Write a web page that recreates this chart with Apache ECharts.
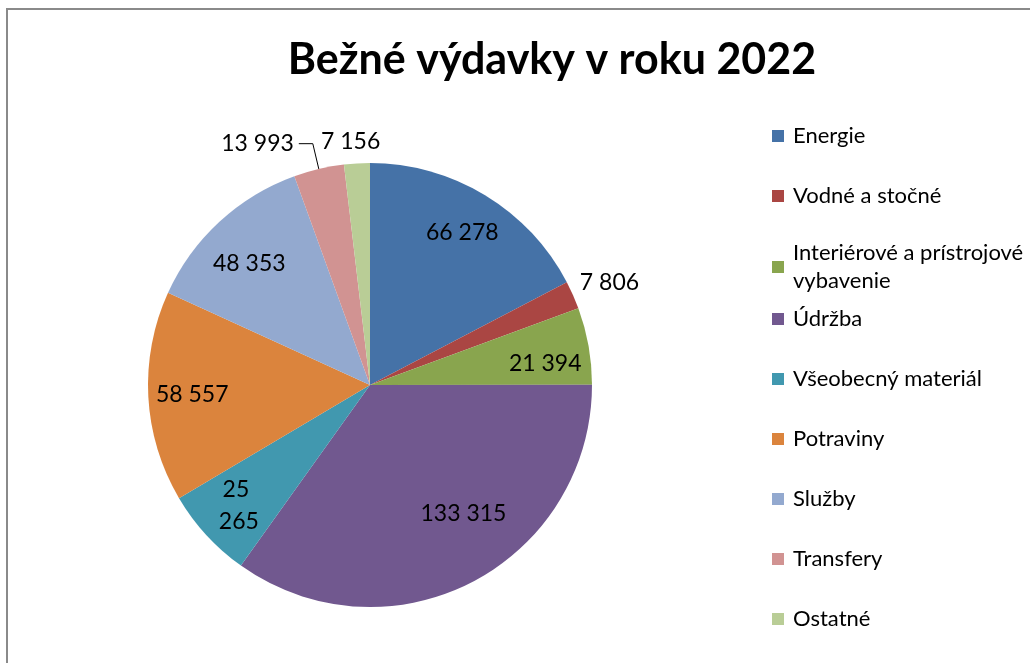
<!DOCTYPE html>
<html>
<head>
<meta charset="utf-8">
<script src="https://cdn.jsdelivr.net/npm/echarts@6/dist/echarts.min.js"></script>
<style>
html,body{margin:0;padding:0;background:#fff;}
#c{width:1030px;height:663px;}
</style>
</head>
<body>
<div id="c"></div>
<script>
const titleText = 'Bežné výdavky v roku 2022';
const categories = ['Energie', 'Vodné a stočné', 'Interiérové a prístrojové vybavenie', 'Údržba', 'Všeobecný materiál', 'Potraviny', 'Služby', 'Transfery', 'Ostatné'];
const values = [66278, 7806, 21394, 133315, 25265, 58557, 48353, 13993, 7156];
const colors = ['#4572A7', '#AA4643', '#89A54E', '#71588F', '#4198AF', '#DB843D', '#93A9CF', '#D19392', '#B9CD96'];
const outsideLabels = ['Vodné a stočné', 'Transfery', 'Ostatné'];

const fmt = v => String(v).replace(/\B(?=(\d{3})+(?!\d))/g, ' ');
const FONT = 'Lato, "Open Sans", sans-serif';
const WRAPPED = 'Interiérové a prístrojové vybavenie';

const mainData = categories.map((name, i) => {
  const d = { name, value: values[i], itemStyle: { color: colors[i] } };
  if (name === 'Vodné a stočné') {
    d.label = { show: true };
    d.labelLine = { show: false, length: 2, length2: 0 };
  } else if (name === 'Transfery') {
    d.label = { show: true };
    d.labelLine = { show: true, length: 26, length2: 14, lineStyle: { color: '#000', width: 1 } };
  } else if (name === 'Ostatné') {
    d.label = { show: true };
    d.labelLine = { show: false, length: 22, length2: 0 };
  }
  return d;
});

const innerData = categories.map((name, i) => {
  const d = { name, value: values[i] };
  if (outsideLabels.includes(name)) d.label = { show: false };
  if (name === 'Všeobecný materiál') d.label = { width: 50, overflow: 'break', lineHeight: 32 };
  return d;
});

const legendBase = {
  orient: 'vertical',
  left: 772,
  padding: 0,
  itemWidth: 12,
  itemHeight: 12,
  itemGap: 32,
  icon: 'rect',
  selectedMode: false,
  formatter: n => n === WRAPPED ? 'Interiérové a prístrojové\nvybavenie' : n,
  textStyle: { fontFamily: FONT, fontSize: 22, color: '#000', lineHeight: 28, padding: [0, 0, 0, 4] }
};
const toLegendData = list => list.map(n => n === WRAPPED ? { name: n, textStyle: { height: 28 } } : { name: n });

const chart = echarts.init(document.getElementById('c'));
chart.setOption({
  animation: false,
  backgroundColor: '#fff',
  title: {
    text: titleText,
    left: 552,
    top: 39,
    padding: 0,
    textAlign: 'center',
    textStyle: { fontFamily: FONT, fontWeight: 'bold', fontSize: 43, color: '#000' }
  },
  legend: [
    Object.assign({}, legendBase, { top: 122, data: toLegendData(categories.slice(0, 3)) }),
    Object.assign({}, legendBase, { top: 305, data: toLegendData(categories.slice(3)) })
  ],
  graphic: [{
    type: 'rect',
    shape: { x: 7, y: 9, width: 1100, height: 800 },
    style: { fill: 'none', stroke: '#8a8a8a', lineWidth: 2 },
    silent: true
  }],
  series: [{
    type: 'pie',
    center: [370, 385],
    radius: [0, 222],
    startAngle: 90,
    clockwise: true,
    avoidLabelOverlap: false,
    silent: true,
    itemStyle: { borderWidth: 0 },
    emphasis: { disabled: true },
    label: {
      show: false,
      position: 'outside',
      formatter: p => fmt(p.value),
      fontFamily: FONT, fontSize: 23, color: '#000'
    },
    labelLayout: function (p) {
      const n = categories[p.dataIndex];
      if (n === 'Ostatné') return { align: 'center' };
      if (n === 'Vodné a stočné') return { dy: -12 };
      return {};
    },
    data: mainData
  }, {
    type: 'pie',
    center: [370, 385],
    radius: [128, 222],
    startAngle: 90,
    clockwise: true,
    silent: true,
    emphasis: { disabled: true },
    itemStyle: { color: 'rgba(0,0,0,0)', borderWidth: 0 },
    label: {
      show: true,
      position: 'inside',
      formatter: p => fmt(p.value),
      fontFamily: FONT, fontSize: 23, color: '#000'
    },
    labelLayout: function (p) {
      const n = categories[p.dataIndex];
      if (n === 'Údržba') return { dx: 12, dy: -30 };
      if (n === 'Služby') return { dy: 9 };
      if (n === WRAPPED) return { dy: 10 };
      return {};
    },
    labelLine: { show: false },
    data: innerData,
    z: 3
  }]
});
</script>
</body>
</html>
